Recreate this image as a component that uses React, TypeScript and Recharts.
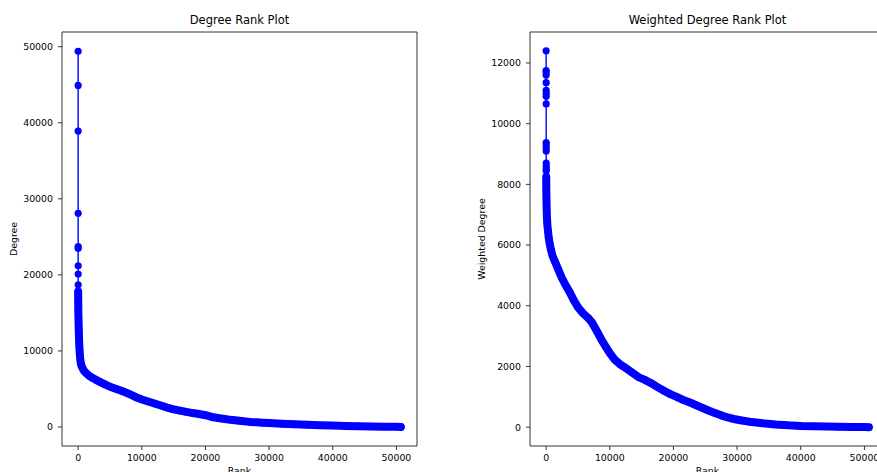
import React from 'react';
import { LineChart, Line, XAxis, YAxis } from 'recharts';

// degree rank plot
const degreeRanks = [
  0, 1, 2, 3, 4, 5, 6, 7, 8, 9, 10, 12, 14, 17, 20, 25, 30, 36, 43, 50, 60, 70, 80, 95,
  110, 125, 140, 160, 180, 200, 230, 260, 300, 350, 420, 500, 600, 800, 1000, 1300, 1700,
  2200, 2800, 3500, 4200, 5000, 6000, 7000, 8000, 9000, 10000, 11000, 12000, 13000, 14000,
  15000, 16000, 17000, 18000, 19000, 20000, 21000, 22000, 23000, 24000, 25000, 26000,
  27000, 28000, 29000, 30000, 32000, 34000, 36000, 38000, 40000, 42000, 44000, 46000, 48000,
  50000, 50700,
];
const degreeValues = [
  49400, 44900, 38900, 28100, 23700, 23500, 21200, 20100, 18700, 17800, 17600, 17300, 17000,
  16700, 16400, 16000, 15600, 15200, 14800, 14400, 14000, 13600, 13200, 12800, 12400, 12000,
  11600, 11200, 10800, 10400, 10000, 9600, 9200, 8800, 8400, 8100, 7900, 7550, 7300, 7050,
  6750, 6480, 6200, 5900, 5600, 5300, 5000, 4700, 4350, 3950, 3620, 3350, 3080, 2820, 2550,
  2320, 2150, 1980, 1830, 1700, 1550, 1320, 1180, 1060, 940, 840, 750, 670, 610, 560,
  510, 430, 360, 290, 230, 180, 140, 100, 70, 40, 20, 10,
];

// weighted degree rank plot
const weightedRanks = [
  0, 1, 2, 3, 4, 5, 6, 7, 8, 9, 10, 11, 12, 13, 14, 15, 16, 17, 20, 25, 30, 40, 50, 65, 80,
  100, 130, 170, 220, 300, 400, 550, 750, 1000, 1400, 1900, 2400, 3000, 3700, 4300, 5000,
  5800, 6600, 7200, 8000, 8700, 9400, 10000, 10800, 11600, 12500, 13500, 14500, 15500, 16500,
  17500, 18500, 19500, 20500, 21500, 22500, 23500, 24500, 25500, 26500, 27500, 28500, 29500,
  30500, 32000, 34000, 36000, 38000, 40000, 42000, 44000, 46000, 48000, 50000, 50700,
];
const weightedValues = [
  12400, 11750, 11700, 11600, 11350, 11100, 11000, 10900, 10650, 9380, 9300, 9200, 9100, 8700,
  8600, 8500, 8450, 8250, 8100, 7950, 7800, 7650, 7500, 7350, 7200, 7050, 6900, 6750, 6600,
  6450, 6250, 6050, 5850, 5650, 5450, 5200, 4950, 4700, 4450, 4200, 3950, 3750, 3600, 3450,
  3150, 2880, 2640, 2440, 2220, 2070, 1950, 1800, 1650, 1560, 1450, 1320, 1200, 1090, 1000,
  900, 820, 730, 640, 550, 470, 390, 320, 270, 230, 180, 130, 90, 60, 40, 30, 20, 15, 10, 5, 0,
];

const rankTicks = [0, 10000, 20000, 30000, 40000, 50000];
const degreeTicks = [0, 10000, 20000, 30000, 40000, 50000];
const weightedTicks = [0, 2000, 4000, 6000, 8000, 10000, 12000];

const BLUE = '#0000ff';
const FONT = '"DejaVu Sans", sans-serif';
const RANK_DOMAIN = [-2535, 53235];

const buildRows = (ranks: number[], values: number[], denseFrom: number) =>
  ranks.map((rank, i) => ({
    rank,
    value: values[i],
    dense: values[i] <= denseFrom ? values[i] : null,
  }));

const degreeRows = buildRows(degreeRanks, degreeValues, 17800);
const weightedRows = buildRows(weightedRanks, weightedValues, 8250);

const tickStyle = { fill: '#000', fontSize: 9.4, fontFamily: FONT };

const RankChart = ({ title, yLabel, rows, yDomain, yTicks, left }) => (
  <div style={{ position: 'absolute', left, top: 0, width: 439, height: 490 }}>
    <div
      style={{
        position: 'absolute', top: 15, left: 62, width: 355, textAlign: 'center',
        fontSize: 11.5, lineHeight: 1, fontFamily: FONT, color: '#000',
      }}
    >
      {title}
    </div>
    <LineChart width={439} height={490} data={rows} margin={{ top: 31, right: 21, bottom: 0, left: 0 }}>
      <XAxis
        dataKey="rank" type="number" domain={RANK_DOMAIN} ticks={rankTicks} allowDataOverflow
        height={44} tickSize={4} tickMargin={4} stroke="#333" tick={tickStyle}
        label={{ value: 'Rank', position: 'insideBottom', offset: 16, fill: '#000', fontSize: 9.4, fontFamily: FONT }}
      />
      {/* mirrored axes only draw the top and right edges of the frame */}
      <XAxis
        xAxisId="top" orientation="top" dataKey="rank" type="number" domain={RANK_DOMAIN}
        allowDataOverflow height={1} tick={false} tickLine={false} stroke="#333"
      />
      <YAxis
        type="number" domain={yDomain} ticks={yTicks} allowDataOverflow width={62}
        tickSize={4} tickMargin={5} stroke="#333" tick={tickStyle}
        label={{
          value: yLabel, angle: -90, position: 'insideLeft', offset: 14, fill: '#000',
          fontSize: 9.4, fontFamily: FONT, style: { textAnchor: 'middle' },
        }}
      />
      <YAxis
        yAxisId="right" orientation="right" type="number" domain={yDomain} allowDataOverflow
        width={1} tick={false} tickLine={false} stroke="#333"
      />
      <Line
        type="linear" dataKey="value" stroke={BLUE} strokeWidth={1.4}
        dot={{ r: 3.6, fill: BLUE, stroke: 'none' }} activeDot={false} isAnimationActive={false}
      />
      <Line
        xAxisId="top" yAxisId="right" type="linear" dataKey="dense" stroke={BLUE} strokeWidth={8}
        strokeLinejoin="round" strokeLinecap="round" dot={false} activeDot={false}
        isAnimationActive={false}
      />
    </LineChart>
  </div>
);

export default function App() {
  return (
    <div style={{ position: 'fixed', left: 0, top: 0, width: 877, height: 472, overflow: 'hidden', background: '#fff' }}>
      <RankChart title="Degree Rank Plot" yLabel="Degree" rows={degreeRows} yDomain={[-2500, 51930]} yTicks={degreeTicks} left={0} />
      <RankChart title="Weighted Degree Rank Plot" yLabel="Weighted Degree" rows={weightedRows} yDomain={[-620, 13020]} yTicks={weightedTicks} left={468} />
    </div>
  );
}
